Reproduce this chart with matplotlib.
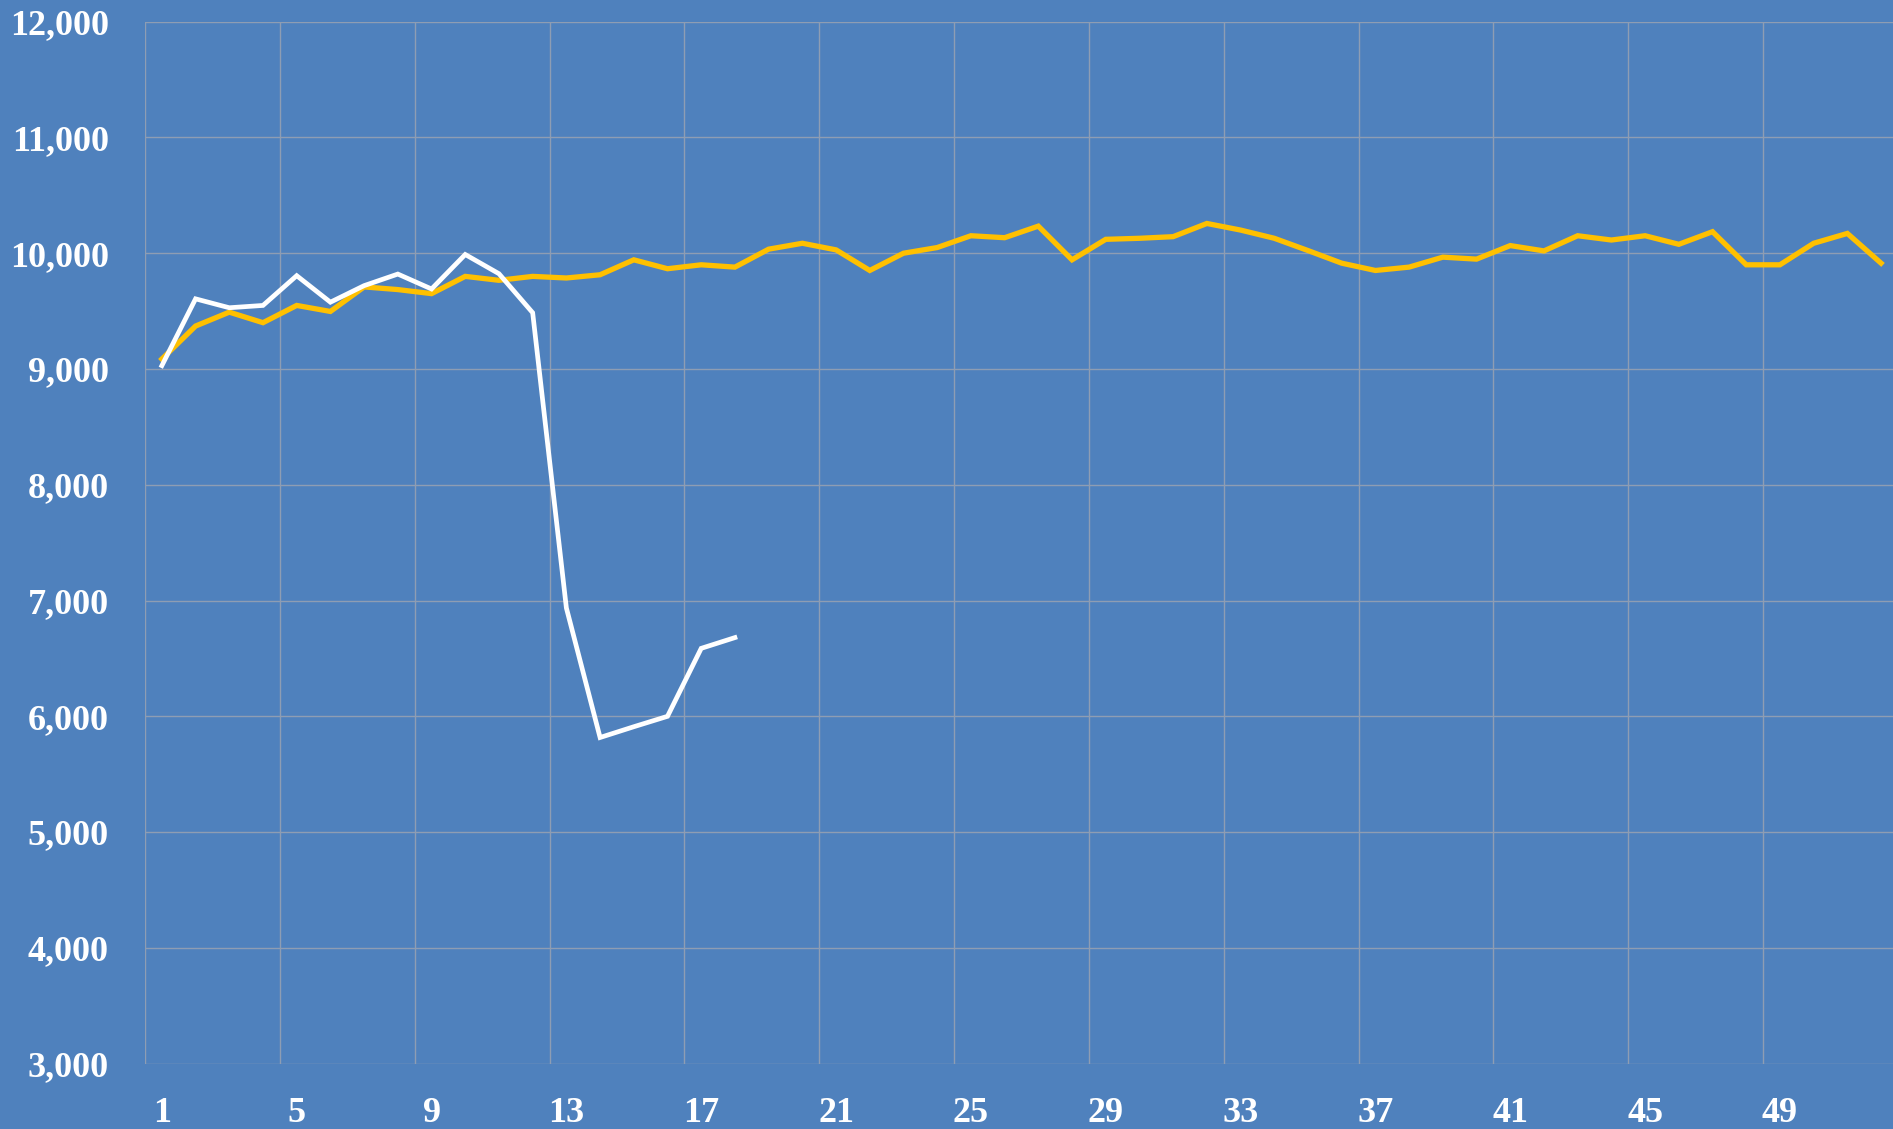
import matplotlib
matplotlib.use("Agg")
import matplotlib.pyplot as plt
from matplotlib.ticker import FuncFormatter, FixedLocator

weeks = list(range(1, 53))
yellow_values = [9086, 9371, 9491, 9400, 9549, 9497, 9709, 9686, 9651, 9800,
                 9766, 9800, 9786, 9814, 9943, 9866, 9900, 9880, 10035, 10086,
                 10029, 9851, 10000, 10049, 10151, 10134, 10234, 9943, 10120, 10129,
                 10143, 10257, 10200, 10129, 10023, 9914, 9851, 9880, 9966, 9949,
                 10066, 10020, 10151, 10114, 10151, 10077, 10186, 9900, 9900, 10086,
                 10171, 9914]
white_values = [9029, 9606, 9529, 9549, 9806, 9577, 9720, 9820, 9691, 9989,
                9823, 9486, 6936, 5817, 5910, 6000, 6587, 6680]
x_tick_labels = [1, 5, 9, 13, 17, 21, 25, 29, 33, 37, 41, 45, 49]
y_ticks = [3000, 4000, 5000, 6000, 7000, 8000, 9000, 10000, 11000, 12000]

BG = "#4F81BD"
fig = plt.figure(figsize=(18.93, 11.29), dpi=100, facecolor=BG)
ax = fig.add_axes([0.0766, 0.0579, 0.9260, 0.9229])
ax.set_facecolor(BG)

ax.plot(weeks, yellow_values, color="#FFC000", lw=3.8, solid_joinstyle="miter", zorder=3)
ax.plot(weeks[:len(white_values)], white_values, color="white", lw=3.4,
        solid_joinstyle="miter", zorder=4)

ax.set_xlim(0.5, 52.5)
ax.set_ylim(3000, 12000)

ax.yaxis.set_major_locator(FixedLocator(y_ticks))
ax.yaxis.set_major_formatter(FuncFormatter(lambda v, p: f"{int(v):,}"))
ax.set_xticks(x_tick_labels)
ax.set_xticklabels([str(v) for v in x_tick_labels])
ax.xaxis.set_minor_locator(FixedLocator([v - 0.5 for v in x_tick_labels]))

for s in ax.spines.values():
    s.set_visible(False)

ax.grid(False)
ax.grid(True, which="major", axis="y", color="#8E9DB3", lw=1.0)
ax.grid(True, which="minor", axis="x", color="#8E9DB3", lw=1.0)
ax.set_axisbelow(True)

ax.tick_params(axis="both", which="both", length=0)
ax.tick_params(axis="y", pad=26)
ax.tick_params(axis="x", pad=24)
for lab in ax.get_xticklabels() + ax.get_yticklabels():
    lab.set_fontfamily("Liberation Serif")
    lab.set_fontweight("bold")
    lab.set_fontsize(26)
    lab.set_color("white")

fig.savefig("out.png", dpi=100, facecolor=BG)
